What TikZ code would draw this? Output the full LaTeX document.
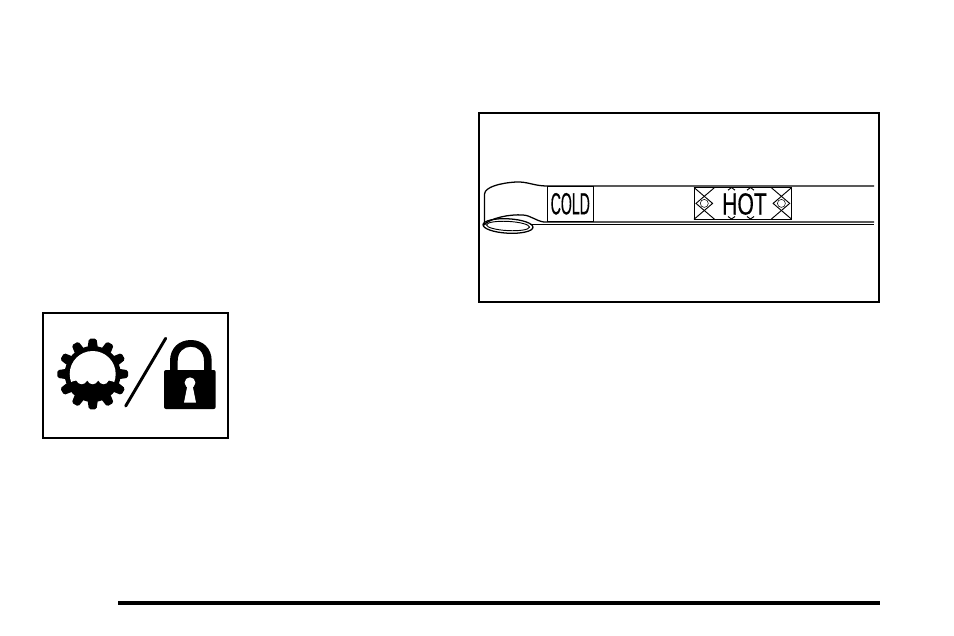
\documentclass[tikz,border=0pt]{standalone}
\usepackage{graphicx}
\usepackage{fontspec}
\setmainfont{Liberation Sans}
\newfontfamily\heavylabel[FakeBold=0.5]{Liberation Sans}
\tikzset{
  frame/.style={draw=black,line width=1.1pt},
  ln/.style={draw=black,line width=0.95pt},
  thin ln/.style={draw=black,line width=0.7pt},
  lbl/.style={inner sep=0pt,text=black}
}
\begin{document}
\begin{tikzpicture}[x=0.75pt,y=-0.75pt]
\useasboundingbox (0,0) rectangle (954,636);
\fill[white] (0,0) rectangle (954,636);
% frames
\draw[frame] (479,113) rectangle (879,302);
\draw[frame] (43,313) rectangle (228,438);
% rule
\draw[black,line width=2.3pt] (118,603) -- (880,603);
% dipstick
\draw[ln] (484.5,225) -- (484.5,194) .. controls (485,187) and (500,183) .. (516,182) .. controls (528,181.5) and (534,186) .. (547,186) -- (874,186);
\draw[ln] (484,225) .. controls (490,218) and (510,214) .. (523,215) .. controls (531,215.5) and (536,221) .. (544,222) -- (874,222);
\draw[thin ln] (530,224.4) -- (874,224.4);
\draw[ln,rotate around={-3:(508,226)}] (508,226) ellipse (25 and 7.2);
\draw[thin ln,rotate around={-3:(508,226)}] (508,226) ellipse (21.5 and 4.6);
\draw[thin ln] (547.3,186) rectangle (593.3,221.5);
\node[lbl] (cold) at (570.3,203.8) {\scalebox{0.46}[1]{\fontsize{23}{23}\heavylabel COLD}};
\draw[thin ln] (694,187) rectangle (791.7,219.5);
% HOT pattern
\foreach \cx in {704.3,781.4}{
  \draw[thin ln] (\cx-10.3,187.5) -- (\cx+8.3,203.4) -- (\cx-10.3,219.3);
  \draw[thin ln] (\cx+10.3,187.5) -- (\cx-8.3,203.4) -- (\cx+10.3,219.3);
  \draw[line width=0.4pt] (\cx,203.4) circle (4);
}
\foreach \cx in {731.5,750.5}{
  \draw[thin ln] (\cx-3.5,190.2) -- (\cx,187.5) -- (\cx+3.5,190.2);
  \draw[thin ln] (\cx-3.5,216.5) -- (\cx,219) -- (\cx+3.5,216.5);
}
\node[lbl] (hot) at (744.5,204) {\scalebox{0.69}[1]{\fontsize{23}{23}\heavylabel HOT}};
% gear
\begin{scope}[shift={(92.7,374)}]
  \fill[black] (0,0) circle (28);
  \foreach \a in {0,30,...,330}{
    \fill[black,rotate=\a,rounded corners=1.2] (-5.2,-26) -- (-3.8,-35.3) -- (3.8,-35.3) -- (5.2,-26) -- cycle;
  }
  \begin{scope}
    \clip (0,0) circle (23);
    \fill[white] (-30,-30) -- (30,-30) -- (30,10)
      .. controls (24,11) and (22,7) .. (16,6.5)
      .. controls (14,11.5) and (8,11.5) .. (5.5,6.5)
      .. controls (3,11.5) and (-3,11.5) .. (-5.5,6.5)
      .. controls (-8,11.5) and (-14,11.5) .. (-16.5,6.5)
      .. controls (-22,7) and (-24,11) .. (-30,10) -- cycle;
  \end{scope}
\end{scope}
% slash
\draw[black,line width=2.2pt,line cap=round] (165.7,338.3) -- (125.7,406);
% lock
\fill[black,rounded corners=1.5] (164,370) rectangle (215.7,409);
\fill[black] (170,371) -- (170,361) .. controls (170,348) and (179,340) .. (190.85,340) .. controls (202.7,340) and (211.7,348) .. (211.7,361) -- (211.7,371) -- (204,371) -- (204,361) .. controls (204,352) and (198,346.7) .. (190.85,346.7) .. controls (183.7,346.7) and (177.7,352) .. (177.7,361) -- (177.7,371) -- cycle;
\fill[white] (190,382.7) circle (5.4);
\fill[white] (187.5,385) -- (192.5,385) -- (196,402.7) -- (184,402.7) -- cycle;
\end{tikzpicture}
\end{document}
